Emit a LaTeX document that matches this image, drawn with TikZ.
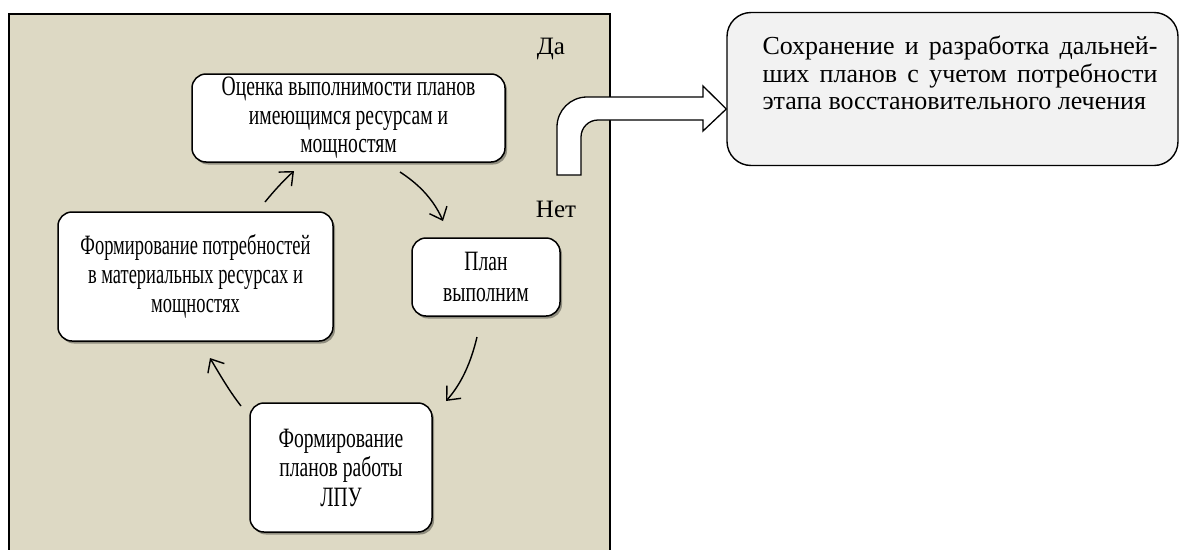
\documentclass[tikz,border=0pt]{standalone}
\usepackage{fontspec}
\setmainfont{Liberation Serif}
\newfontfamily\cond[FakeStretch=0.70]{Liberation Serif}
\newfontfamily\condnarrow[FakeStretch=0.66]{Liberation Serif}
\usetikzlibrary{arrows.meta,shadows}
\definecolor{panelbg}{HTML}{DDD9C4}
\definecolor{notebg}{HTML}{F2F2F2}
\tikzset{
  cyclebox/.style={draw=black, line width=1.5pt, fill=white, rounded corners=14pt,
    align=center, inner sep=2pt,
    font=\cond\fontsize{28}{28.5}\selectfont,
    drop shadow={shadow xshift=2pt, shadow yshift=-2.5pt, opacity=0.35, fill=black}},
  flow/.style={line width=1.4pt, -{Straight Barb[length=11pt,width=19pt,line width=1.4pt]}},
  lbl/.style={font=\fontsize{25}{28}\selectfont, inner sep=0pt},
}
\begin{document}
\begin{tikzpicture}[x=1pt,y=-1pt]
\useasboundingbox (0,0) rectangle (1182,549);
\clip (0,0) rectangle (1182,549);
% panel
\fill[panelbg] (9,14) rectangle (610,560);
\draw[line width=1.4pt] (9,560) -- (9,14) -- (610,14) -- (610,560);
% cycle boxes
\node[cyclebox, minimum width=313pt, minimum height=88pt] (eval) at (348.5,118)
  {Оценка выполнимости планов\\имеющимся ресурсам и\\мощностям};
\node[cyclebox, minimum width=275pt, minimum height=129pt, font=\condnarrow\fontsize{28}{29}\selectfont] (needs) at (195.5,276.5)
  {Формирование потребностей\\в материальных ресурсах и\\мощностях};
\node[cyclebox, minimum width=148pt, minimum height=78pt, font=\cond\fontsize{28}{31}\selectfont] (ok) at (486,277)
  {План\\выполним};
\node[cyclebox, minimum width=182pt, minimum height=129pt, font=\cond\fontsize{28}{29.5}\selectfont] (plans) at (341,467.5)
  {Формирование\\планов работы\\ЛПУ};
% labels
\node[lbl] (yes) at (551,49) {Да};
\node[lbl] (no) at (556,209) {Нет};
% arrow endpoints
\coordinate (a1s) at (265,202); \coordinate (a1e) at (294,171);
\coordinate (a2s) at (400,172); \coordinate (a2e) at (443,221);
\coordinate (a3s) at (477,337); \coordinate (a3e) at (446,401);
\coordinate (a4s) at (241,406); \coordinate (a4e) at (210,358);
\draw[flow] (a1s) .. controls (274,191) and (283,181) .. (a1e);
\draw[flow] (a2s) .. controls (417,183) and (433,198) .. (a2e);
\draw[flow] (a3s) .. controls (471,362) and (462,383) .. (a3e);
\draw[flow] (a4s) .. controls (230,392) and (220,375) .. (a4e);
% note box
\node[draw=black, line width=1.4pt, fill=notebg, rounded corners=24pt,
      minimum width=451pt, minimum height=153pt] (note) at (952.5,89) {};
\node[inner sep=0pt, text width=395pt, align=justify, font=\fontsize{26}{27.5}\selectfont] (notetxt) at (960,73)
  {\parfillskip=0pt Сохранение и разработка дальней-\linebreak ших планов с учетом потребности\linebreak этапа восстановительного лечения};
% bent block arrow
\draw[line width=1.3pt, fill=white, line join=miter]
  (557,175) -- (557,127) .. controls (557,110.4) and (570.4,97) .. (587,97)
  -- (703,97) -- (703,86) -- (note.west |- 0,109) -- (703,131) -- (703,120)
  -- (598,120) .. controls (588.6,120) and (581,127.6) .. (581,137)
  -- (581,175) -- cycle;
\end{tikzpicture}
\end{document}
